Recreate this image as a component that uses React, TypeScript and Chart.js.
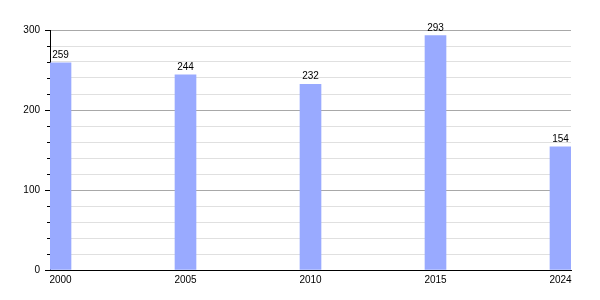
import React, { useEffect, useRef } from 'react';
import { Chart, registerables } from 'chart.js';

Chart.register(...registerables);

const categories = ['2000', '2005', '2010', '2015', '2024'];
const values = [259, 244, 232, 293, 154];
const yTickValues = [0, 100, 200, 300];

const FONT = 'Liberation Sans, Arial, sans-serif';

export default function App() {
  const ref = useRef<HTMLCanvasElement>(null);

  useEffect(() => {
    if (!ref.current) return;

    const minorTicks = {
      id: 'minorTicks',
      afterDraw(chart: any) {
        const y = chart.scales.y;
        const ctx = chart.ctx;
        ctx.save();
        ctx.strokeStyle = '#000';
        ctx.lineWidth = 1;
        y.ticks.forEach((t: any) => {
          if (t.value % 100 !== 0) {
            const py = Math.round(y.getPixelForValue(t.value)) + 0.5;
            ctx.beginPath();
            ctx.moveTo(y.right - 3, py);
            ctx.lineTo(y.right, py);
            ctx.stroke();
          }
        });
        ctx.restore();
      },
    };

    const dataLabels = {
      id: 'dataLabels',
      afterDatasetsDraw(chart: any) {
        const ctx = chart.ctx;
        const meta = chart.getDatasetMeta(0);
        ctx.save();
        ctx.fillStyle = '#000';
        ctx.font = `10px ${FONT}`;
        ctx.textAlign = 'center';
        ctx.textBaseline = 'alphabetic';
        meta.data.forEach((bar: any, i: number) => {
          ctx.fillText(String(values[i]), bar.x, bar.y - 5);
        });
        ctx.restore();
      },
    };

    const chart = new Chart(ref.current, {
      type: 'bar',
      data: {
        datasets: [
          {
            data: values.map((v, i) => ({ x: i, y: v })),
            backgroundColor: '#99aaff',
            borderWidth: 0,
            barThickness: 21,
          },
        ],
      },
      options: {
        responsive: false,
        animation: false,
        layout: { padding: { top: 30, right: 29, left: 0, bottom: 0 } },
        plugins: { legend: { display: false }, tooltip: { enabled: false } },
        scales: {
          x: {
            type: 'linear',
            offset: false,
            min: -0.084,
            max: categories.length - 1 + 0.084,
            afterBuildTicks: (scale: any) => {
              scale.ticks = categories.map((_, i) => ({ value: i }));
            },
            afterFit: (scale: any) => {
              scale.height = 30;
            },
            grid: { display: false, drawTicks: false },
            border: { display: true, color: '#000', width: 1 },
            ticks: {
              autoSkip: false,
              maxRotation: 0,
              padding: 4,
              color: '#000',
              font: { family: FONT, size: 10 },
              callback: (v: any) => categories[v] ?? '',
            },
          },
          y: {
            min: 0,
            max: 300,
            afterFit: (scale: any) => {
              scale.width = 50;
            },
            border: { display: true, color: '#000', width: 1 },
            grid: {
              color: (c: any) => (c.tick && c.tick.value % 100 === 0 ? '#a8a8a8' : '#e0e0e0'),
              tickColor: (c: any) => (c.tick && c.tick.value % 100 === 0 ? '#000' : 'rgba(0,0,0,0)'),
              tickLength: 5,
            },
            ticks: {
              stepSize: 20,
              autoSkip: false,
              padding: 5,
              color: '#000',
              font: { family: FONT, size: 10 },
              callback: (v: any) => (yTickValues.includes(v) ? String(v) : ''),
            },
          },
        },
      },
      plugins: [minorTicks, dataLabels],
    });

    return () => chart.destroy();
  }, []);

  return (
    <canvas
      ref={ref}
      width={600}
      height={300}
      style={{ position: 'absolute', left: 0, top: 0, width: 600, height: 300 }}
    />
  );
}
